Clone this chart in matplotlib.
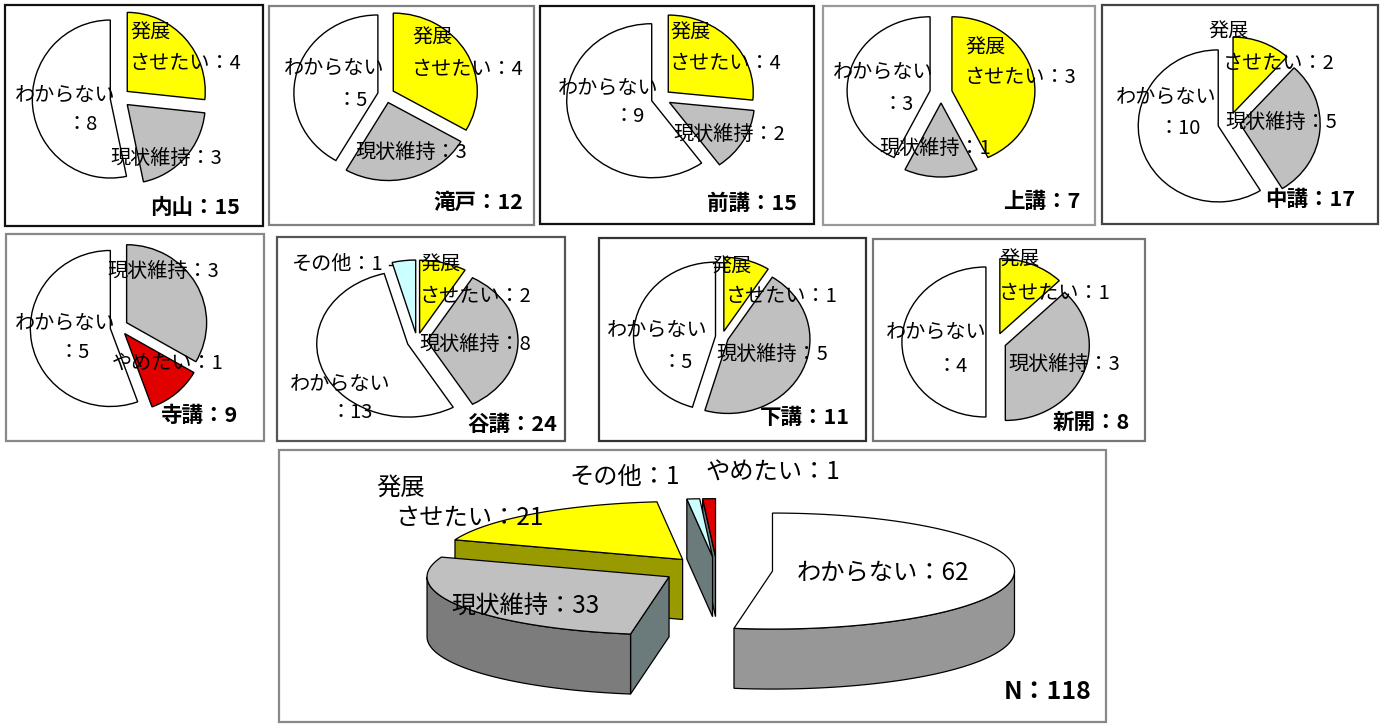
import numpy as np
import matplotlib.pyplot as plt
from matplotlib.patches import Rectangle, Polygon

plt.rcParams['font.family'] = ['Noto Sans CJK JP', 'DejaVu Sans']

W, H = 1384, 724

# answers per hamlet
regions = ['内山', '滝戸', '前講', '上講', '中講', '寺講', '谷講', '下講', '新開']
categories = ['発展させたい', '現状維持', 'やめたい', 'わからない', 'その他']
hatten = [4, 4, 4, 3, 2, 0, 2, 1, 1]
genjo = [3, 3, 2, 1, 5, 3, 8, 5, 3]
yametai = [0, 0, 0, 0, 0, 1, 0, 0, 0]
wakaranai = [8, 5, 9, 3, 10, 5, 13, 5, 4]
sonota = [0, 0, 0, 0, 0, 0, 1, 0, 0]

# whole area (3D pie)
total_cats = ['わからない', '現状維持', '発展させたい', 'その他', 'やめたい']
total_counts = [62, 33, 21, 1, 1]

colors = {'発展させたい': '#ffff00', '現状維持': '#c0c0c0', 'やめたい': '#e00000',
          'わからない': '#ffffff', 'その他': '#ccffff'}
wall_cols = {'発展させたい': '#999900', '現状維持': '#7c7c7c', 'やめたい': '#6b7a7a',
             'わからない': '#979797', 'その他': '#6b7a7a'}
face_cols = {'発展させたい': '#999900', '現状維持': '#6b7a7a', 'やめたい': '#6b7a7a',
             'わからない': '#8c8c8c', 'その他': '#6b7a7a'}

# layout in pixels
boxes = [(5, 5, 263, 226, '#111111'), (269, 6, 534, 225, '#808080'),
         (540, 6, 814, 224, '#111111'), (823, 6, 1095, 225, '#999999'),
         (1102, 5, 1378, 224, '#444444'), (6, 234, 264, 441, '#888888'),
         (277, 237, 565, 441, '#555555'), (599, 238, 866, 441, '#333333'),
         (873, 239, 1145, 441, '#777777')]
big_box = (279, 450, 1106, 722, '#888888')

# centre x, centre y, x radius, y radius, explode
pie_geom = [(120, 98, 78, 79, 0.125), (386, 95, 84, 78, 0.10),
            (661, 98, 85, 77, 0.115), (941, 93, 83, 74, 0.135),
            (1229, 123, 80, 76, 0.14), (119, 327, 80, 78, 0.11),
            (417, 341, 91, 73, 0.11), (722, 337, 82, 74, 0.08),
            (996, 342, 84, 75, 0.12)]

label_pos = [
    {'発展させたい': [(130, 33), (130, 63)], '現状維持': [(110, 158)], 'わからない': [(15, 95), (66, 125)]},
    {'発展させたい': [(412, 38), (412, 70)], '現状維持': [(355, 152)], 'わからない': [(284, 68), (336, 100)]},
    {'発展させたい': [(670, 33), (670, 63)], '現状維持': [(673, 135)], 'わからない': [(558, 88), (613, 117)]},
    {'発展させたい': [(965, 48), (965, 77)], '現状維持': [(879, 148)], 'わからない': [(833, 72), (882, 105)]},
    {'発展させたい': [(1208, 32), (1223, 63)], '現状維持': [(1225, 123)], 'わからない': [(1116, 97), (1158, 128)]},
    {'現状維持': [(107, 271)], 'やめたい': [(112, 363)], 'わからない': [(15, 323), (58, 353)]},
    {'その他': [(292, 264)], '発展させたい': [(420, 265), (420, 297)], '現状維持': [(419, 344)],
     'わからない': [(290, 384), (330, 412)]},
    {'発展させたい': [(711, 267), (726, 297)], '現状維持': [(716, 355)], 'わからない': [(607, 330), (661, 362)]},
    {'発展させたい': [(999, 260), (999, 294)], '現状維持': [(1008, 364)], 'わからない': [(886, 332), (936, 367)]},
]
title_pos = [(150, 207), (433, 202), (707, 203), (1003, 202), (1265, 200),
             (160, 416), (467, 424), (760, 418), (1053, 422)]

big_label_pos = {'発展させたい': [(376, 488), (395, 518)], 'その他': [(570, 477)],
                 'やめたい': [(706, 473)], 'わからない': [(797, 572)], '現状維持': [(451, 607)]}

FS = 14.5


def put(x, y, s, size=FS, weight='normal'):
    fig.text(x / W, 1 - y / H, s, ha='left', va='center', fontsize=size,
             fontweight=weight, color='black')


def label_lines(cat, n, npos):
    if cat == '発展させたい':
        return ['発展', f'させたい：{n}']
    if npos == 2:
        return [cat, f'：{n}']
    return [f'{cat}：{n}']


fig = plt.figure(figsize=(W / 100, H / 100), dpi=100)
fig.patch.set_facecolor('white')
bg = fig.add_axes([0, 0, 1, 1])
bg.set_xlim(0, W)
bg.set_ylim(H, 0)
bg.axis('off')

for x0, y0, x1, y1, c in boxes + [big_box]:
    bg.add_patch(Rectangle((x0, y0), x1 - x0, y1 - y0, fill=False, ec=c, lw=1.6))

# small pies
L = 1.35
for i, name in enumerate(regions):
    vals = [hatten[i], genjo[i], yametai[i], wakaranai[i], sonota[i]]
    cats = [c for c, v in zip(categories, vals) if v > 0]
    vals = [v for v in vals if v > 0]
    cx, cy, rx, ry, e = pie_geom[i]
    ax = fig.add_axes([(cx - L * rx) / W, 1 - (cy + L * ry) / H, 2 * L * rx / W, 2 * L * ry / H])
    ax.pie(vals, colors=[colors[c] for c in cats], explode=[e] * len(vals),
           startangle=90, counterclock=False,
           wedgeprops=dict(edgecolor='black', linewidth=1.0))
    ax.set_xlim(-L, L)
    ax.set_ylim(-L, L)
    ax.set_aspect('auto')
    ax.axis('off')
    for c, v in zip(cats, vals):
        pts = label_pos[i][c]
        for (x, y), s in zip(pts, label_lines(c, v, len(pts))):
            put(x, y, s)
    put(*title_pos[i], f'{name}：{sum(vals)}', size=15.5, weight='bold')

# leader line for その他 in 谷講
bg.plot([389, 413, 413], [265, 265, 272], color='black', lw=1.0)

# 3D pie of the whole area
cx, cy, rx, ry, depth, e = 717, 570, 242, 58, 60, 0.23
ang = np.concatenate([[0], np.cumsum(total_counts)]) / sum(total_counts) * 360
parts = []
for i, c in enumerate(total_cats):
    t1, t2 = ang[i], ang[i + 1]
    mid = np.radians((t1 + t2) / 2)
    ox = cx + e * rx * np.sin(mid)
    oy = cy - e * ry * np.cos(mid)
    parts.append((oy, i, t1, t2, ox))

for oy, i, t1, t2, ox in sorted(parts):
    c = total_cats[i]

    def pt(t, dz=0.0):
        r = np.radians(t)
        return (ox + rx * np.sin(r), oy - ry * np.cos(r) + dz)

    if np.sin(np.radians(t1)) < -1e-9:
        bg.add_patch(Polygon([(ox, oy), pt(t1), pt(t1, depth), (ox, oy + depth)],
                             fc=face_cols[c], ec='black', lw=0.9))
    if np.sin(np.radians(t2)) > 1e-9:
        bg.add_patch(Polygon([(ox, oy), pt(t2), pt(t2, depth), (ox, oy + depth)],
                             fc=face_cols[c], ec='black', lw=0.9))
    a, b = max(t1, 90), min(t2, 270)
    if b > a:
        ts = np.linspace(a, b, 80)
        poly = [pt(t) for t in ts] + [pt(t, depth) for t in ts[::-1]]
        bg.add_patch(Polygon(poly, fc=wall_cols[c], ec='black', lw=0.9))
    ts = np.linspace(t1, t2, max(3, int(t2 - t1) * 2))
    bg.add_patch(Polygon([(ox, oy)] + [pt(t) for t in ts], fc=colors[c], ec='black', lw=0.9))

for c, v in zip(total_cats, total_counts):
    pts = big_label_pos[c]
    for (x, y), s in zip(pts, label_lines(c, v, 1 if c != '発展させたい' else 2)):
        put(x, y, s, size=17.5)
put(1004, 692, f'N：{sum(total_counts)}', size=18, weight='bold')

fig.savefig('out.png', dpi=100, facecolor='white')
